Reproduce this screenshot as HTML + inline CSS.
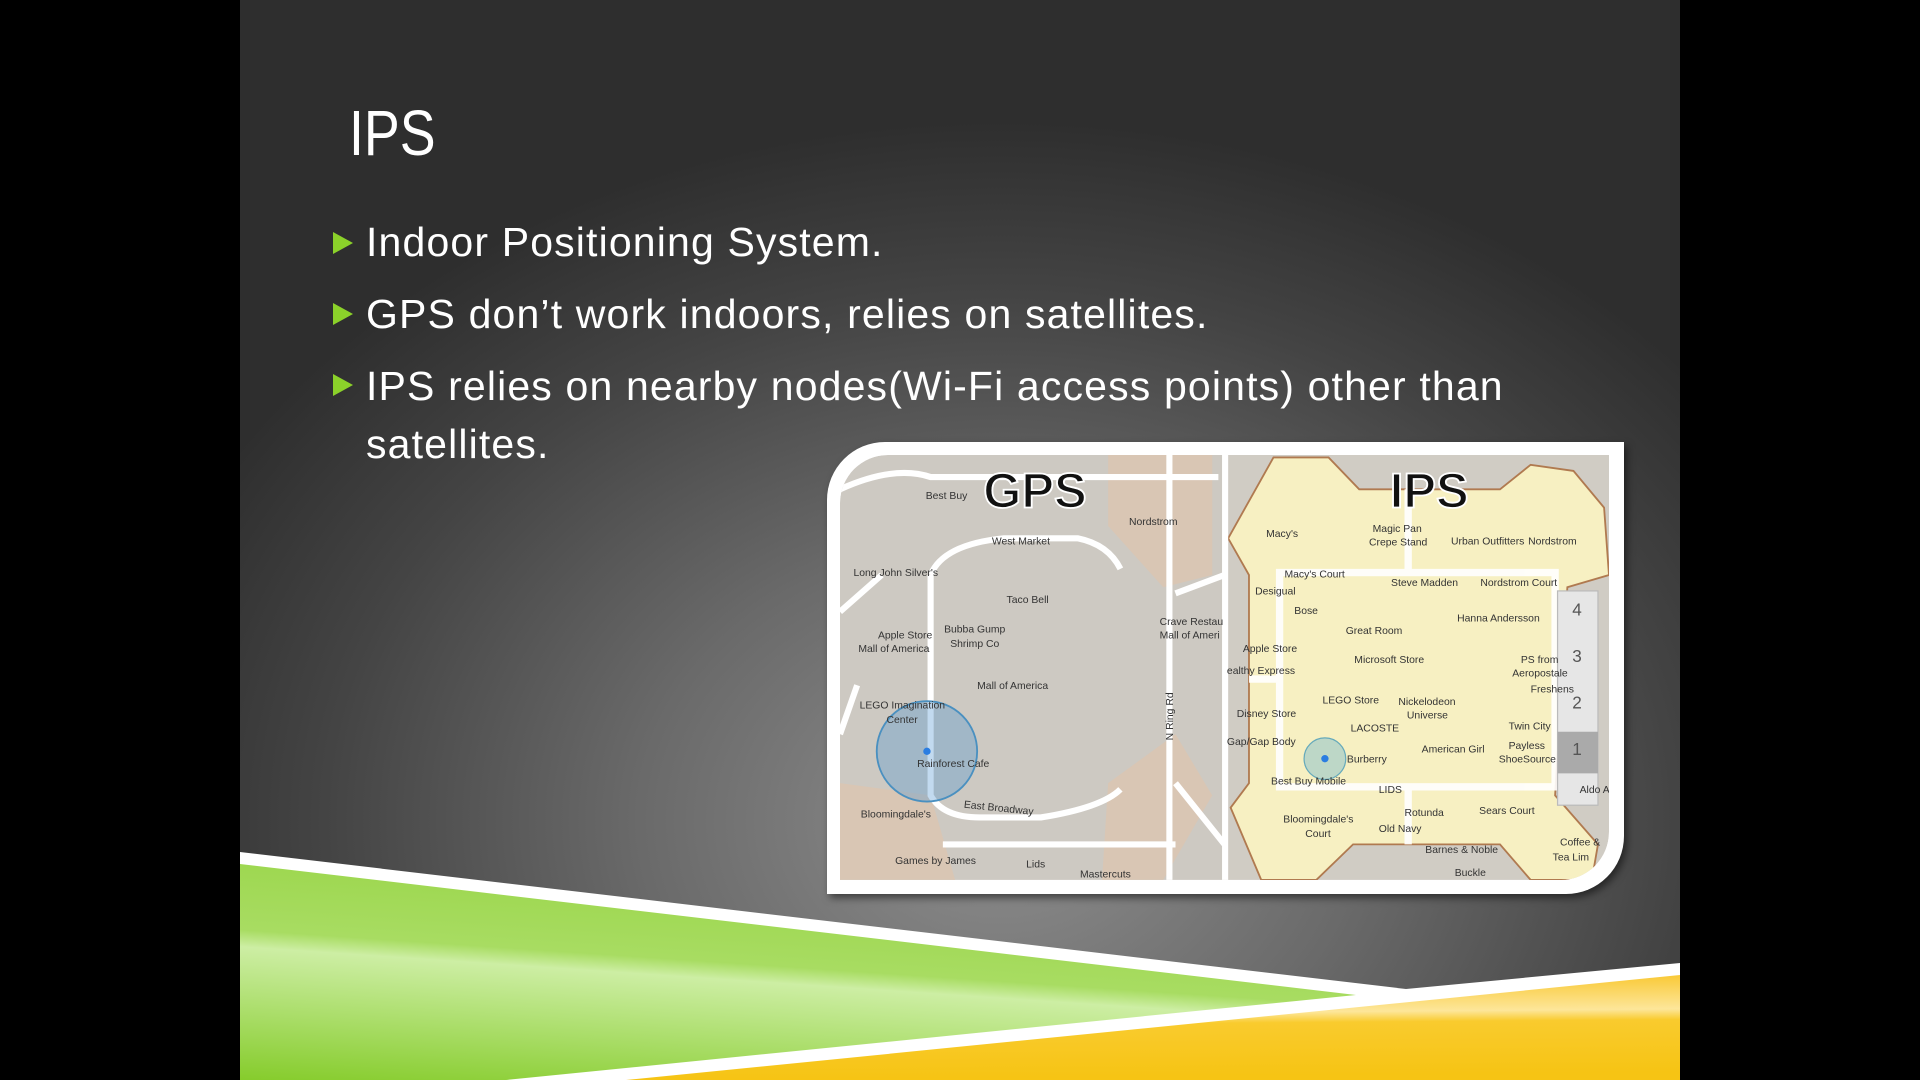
<!DOCTYPE html>
<html><head><meta charset="utf-8"><style>
html,body{margin:0;padding:0;background:#000;}
#wrap{position:relative;width:1920px;height:1080px;overflow:hidden;background:#000;font-family:"Liberation Sans",sans-serif;}
#slide{position:absolute;left:240px;top:0;width:1440px;height:1080px;overflow:hidden;
background:radial-gradient(ellipse 900px 700px at 760px 820px,#8e8e8e 0%,#6a6a6a 40%,#444 75%,#2e2e2e 100%);}
.t{position:absolute;color:#fff;}
.bt{letter-spacing:1.15px;}
.b{position:absolute;width:0;height:0;border-top:11px solid transparent;border-bottom:11px solid transparent;border-left:20px solid #8bd12a;}
</style></head><body><div id="wrap"><div id="slide">
<svg width="1440" height="1080" style="position:absolute;left:0;top:0">
<defs>
<linearGradient id="g" x1="0" y1="1" x2="0.35" y2="0"><stop offset="0" stop-color="#86cc2c"/><stop offset="0.55" stop-color="#cdeea4"/><stop offset="0.62" stop-color="#a8dc62"/><stop offset="1" stop-color="#9ad64a"/></linearGradient>
<linearGradient id="y" x1="0" y1="0" x2="0.08" y2="1"><stop offset="0" stop-color="#f8c21e"/><stop offset="0.4" stop-color="#fde69a"/><stop offset="0.5" stop-color="#f9cb2e"/><stop offset="1" stop-color="#f6c414"/></linearGradient>
</defs>
<polygon points="0,852 1166,989 1440,963 1440,1080 0,1080" fill="#fff"/>
<polygon points="0,864 1116,995 266,1080 0,1080" fill="url(#g)"/>
<polygon points="386,1080 1440,975 1440,1080" fill="url(#y)"/>
</svg>
<div class="t" style="left:109px;top:96px;font-size:64px;transform:scaleX(0.84);transform-origin:left top;">IPS</div>
<div class="b" style="left:93px;top:232px"></div>
<div class="t bt" style="left:126px;top:219px;font-size:41px;">Indoor Positioning System.</div>
<div class="b" style="left:93px;top:303px"></div>
<div class="t bt" style="left:126px;top:291px;font-size:41px;">GPS don’t work indoors, relies on satellites.</div>
<div class="b" style="left:93px;top:374px"></div>
<div class="t bt" style="left:126px;top:357px;font-size:41px;line-height:58px;">IPS relies on nearby nodes(Wi-Fi access points) other than<br>satellites.</div>
</div>
<div style="position:absolute;left:827px;top:442px;width:797px;height:452px;background:#fff;border-radius:58px 0 58px 0;box-shadow:3px 4px 8px rgba(0,0,0,.5);"></div>
<svg style="position:absolute;left:840px;top:455px;border-radius:48px 0 48px 0;" width="769" height="425" viewBox="0 0 769 425">
<defs><clipPath id="c"><path d="M48,0H769V377A48,48 0 0 1 721,425H0V48A48,48 0 0 1 48,0Z"/></clipPath></defs>
<g clip-path="url(#c)"><g transform="scale(1.2245) translate(-686,-372)" font-family="Liberation Sans,sans-serif" font-size="8.5" fill="#333">
<rect x="686" y="372" width="314" height="347" fill="#cdc9c2"/>
<polygon points="905,372 990,372 990,470 950,480 905,430" fill="#d9c6b4"/>
<polygon points="905,640 960,600 990,650 950,719 900,719" fill="#d9c6b4"/>
<polygon points="686,640 760,650 780,719 686,719" fill="#d9c6b4"/>
<g fill="none" stroke="#fff" stroke-width="5">
<path d="M770,690 L960,690 M760,470 Q770,445 820,440 L880,440 Q905,445 915,465"/>
<path d="M760,470 L760,650 Q770,668 800,668 L850,668 Q900,660 915,645"/>
<path d="M955,372 L955,719 M960,485 L1000,470 M960,640 L1000,690 M686,500 L720,470 M686,600 L700,560"/>
<path d="M686,400 Q730,380 760,390 L995,390"/>
</g>
<rect x="1000" y="372" width="314" height="347" fill="#d0ccc4"/>
<polygon points="1003,440 1040,374 1085,374 1110,400 1225,400 1250,380 1285,385 1310,415 1314,470 1280,480 1270,650 1305,690 1300,719 1250,719 1225,690 1105,690 1075,719 1030,719 1005,660 1020,640 1020,470" fill="#f7f0c2" stroke="#b07a50" stroke-width="1.5"/>
<g fill="none" stroke="#fff" stroke-width="6" opacity="0.9">
<rect x="1045" y="468" width="225" height="175"/><path d="M1150,400 L1150,468 M1150,643 L1150,690 M1020,555 L1045,555"/>
</g>
<rect x="998" y="372" width="5" height="347" fill="#fff"/>
<rect x="1272" y="483" width="33" height="175" fill="#e6e6e6" stroke="#bbb"/>
<rect x="1272" y="598" width="33" height="34" fill="#aaa"/>
<g font-size="14" fill="#555"><text x="1284" y="503">4</text><text x="1284" y="541">3</text><text x="1284" y="579">2</text><text x="1284" y="617">1</text></g>
<circle cx="757" cy="614" r="41" fill="rgba(80,150,210,.35)" stroke="#4a90c0" stroke-width="1.5"/>
<circle cx="757" cy="614" r="3" fill="#2a7de1"/>
<circle cx="1082" cy="620" r="17" fill="rgba(80,170,210,.35)" stroke="#6ab" stroke-width="1"/>
<circle cx="1082" cy="620" r="3" fill="#2a7de1"/>
<text x="756" y="408">Best Buy</text><text x="922" y="429">Nordstrom</text><text x="810" y="445">West Market</text>
<text x="697" y="471">Long John Silver's</text><text x="822" y="493">Taco Bell</text><text x="771" y="517">Bubba Gump</text><text x="776" y="529">Shrimp Co</text>
<text x="717" y="522">Apple Store</text><text x="701" y="533">Mall of America</text><text x="947" y="511">Crave Restau</text><text x="947" y="522">Mall of Ameri</text>
<text x="798" y="563">Mall of America</text><text x="702" y="579">LEGO Imagination</text><text x="724" y="591">Center</text><text x="749" y="627">Rainforest Cafe</text>
<text x="958" y="605" transform="rotate(-90 958 605)">N Ring Rd</text><text x="787" y="660" transform="rotate(6 787 660)">East Broadway</text>
<text x="703" y="668">Bloomingdale's</text><text x="731" y="706">Games by James</text><text x="838" y="709">Lids</text><text x="882" y="717">Mastercuts</text>
<text x="1034" y="439">Macy's</text><text x="1121" y="435">Magic Pan</text><text x="1118" y="446">Crepe Stand</text><text x="1185" y="445">Urban Outfitters</text><text x="1248" y="445">Nordstrom</text>
<text x="1049" y="472">Macy's Court</text><text x="1136" y="479">Steve Madden</text><text x="1209" y="479">Nordstrom Court</text><text x="1025" y="486">Desigual</text>
<text x="1057" y="502">Bose</text><text x="1190" y="508">Hanna Andersson</text><text x="1099" y="518">Great Room</text><text x="1015" y="533">Apple Store</text>
<text x="1106" y="542">Microsoft Store</text><text x="1242" y="542">PS from</text><text x="1235" y="553">Aeropostale</text><text x="1002" y="551">ealthy Express</text>
<text x="1250" y="566">Freshens</text><text x="1080" y="575">LEGO Store</text><text x="1142" y="576">Nickelodeon</text><text x="1149" y="587">Universe</text>
<text x="1010" y="586">Disney Store</text><text x="1103" y="598">LACOSTE</text><text x="1232" y="596">Twin City</text><text x="1002" y="609">Gap/Gap Body</text>
<text x="1161" y="615">American Girl</text><text x="1232" y="612">Payless</text><text x="1224" y="623">ShoeSource</text><text x="1100" y="623">Burberry</text>
<text x="1038" y="641">Best Buy Mobile</text><text x="1126" y="648">LIDS</text><text x="1147" y="667">Rotunda</text><text x="1208" y="665">Sears Court</text>
<text x="1048" y="672">Bloomingdale's</text><text x="1066" y="684">Court</text><text x="1126" y="680">Old Navy</text><text x="1164" y="697">Barnes &amp; Noble</text>
<text x="1274" y="691">Coffee &amp;</text><text x="1268" y="703">Tea Lim</text><text x="1188" y="716">Buckle</text><text x="1290" y="648">Aldo A</text>
<g font-size="40" font-weight="bold" fill="#111" stroke="#fff" stroke-width="1.5"><text x="803" y="415">GPS</text><text x="1135" y="415">IPS</text></g>
</g></g></svg>
</div></body></html>
